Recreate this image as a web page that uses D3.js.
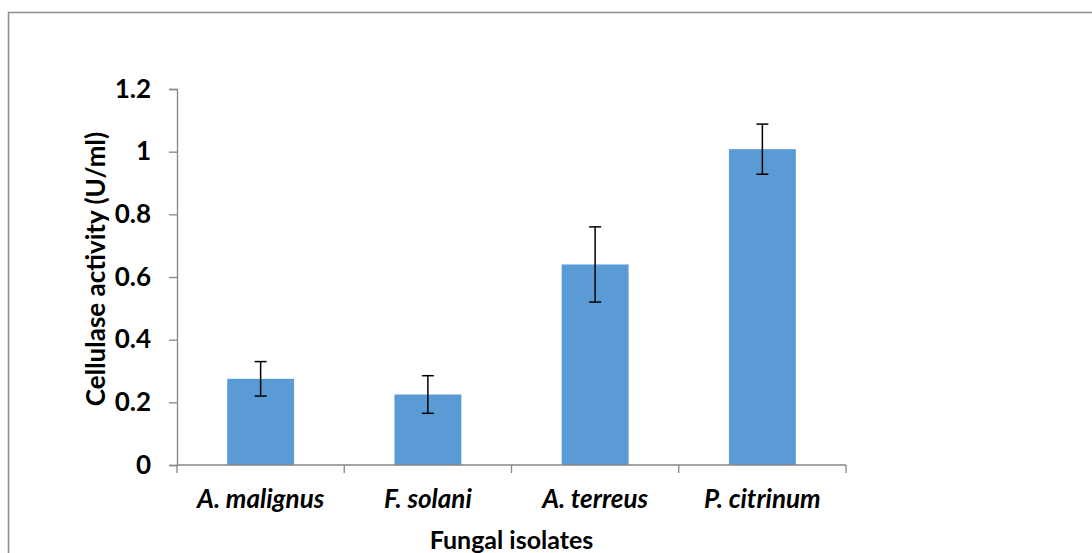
<!DOCTYPE html>
<html>
<head>
<meta charset="utf-8">
<script src="https://cdn.jsdelivr.net/npm/d3@7"></script>
<style>
  html, body { margin: 0; padding: 0; background: #fff; }
  svg { display: block; }
  text { font-family: Lato, "Open Sans", sans-serif; font-weight: 700; fill: #000; }
</style>
</head>
<body>
<script>
// Cellulase activity of fungal isolates (mean ± error)
const isolates = ["A. malignus", "F. solani", "A. terreus", "P. citrinum"];
const activity = [0.275, 0.225, 0.64, 1.008];
const errors = [0.055, 0.06, 0.12, 0.08];
const yTicks = [0, 0.2, 0.4, 0.6, 0.8, 1, 1.2];
const yTickLabels = ["0", "0.2", "0.4", "0.6", "0.8", "1", "1.2"];

const W = 1092, H = 553;
const margin = { left: 177, right: 246, top: 89, bottom: 88 };
const FS = 26;

const svg = d3.select("body").append("svg")
  .attr("width", W).attr("height", H);

// chart area frame
svg.append("rect")
  .attr("x", 8.5).attr("y", 12.5)
  .attr("width", W + 20).attr("height", H + 20)
  .attr("fill", "#fff").attr("stroke", "#8c8c8c").attr("stroke-width", 1.5);

const x = d3.scaleBand()
  .domain(isolates)
  .range([margin.left, W - margin.right])
  .paddingInner(0.6).paddingOuter(0.3);

const y = d3.scaleLinear()
  .domain([0, 1.2])
  .range([H - margin.bottom, margin.top]);

// bars
svg.append("g").selectAll("rect")
  .data(isolates)
  .join("rect")
  .attr("x", d => x(d))
  .attr("y", (d, i) => y(activity[i]))
  .attr("width", x.bandwidth())
  .attr("height", (d, i) => y(0) - y(activity[i]))
  .attr("fill", "#5b9bd5");

// error bars
const eb = svg.append("g").attr("stroke", "#000").attr("stroke-width", 1.5);
isolates.forEach((d, i) => {
  const cx = x(d) + x.bandwidth() / 2;
  const hi = y(activity[i] + errors[i]);
  const lo = y(activity[i] - errors[i]);
  eb.append("line").attr("x1", cx).attr("x2", cx).attr("y1", hi).attr("y2", lo);
  eb.append("line").attr("x1", cx - 6).attr("x2", cx + 6).attr("y1", hi).attr("y2", hi);
  eb.append("line").attr("x1", cx - 6).attr("x2", cx + 6).attr("y1", lo).attr("y2", lo);
});

// y axis
const yAxis = svg.append("g")
  .attr("transform", `translate(${margin.left},0)`)
  .call(d3.axisLeft(y).tickValues(yTicks)
    .tickFormat((d, i) => yTickLabels[i])
    .tickSize(8).tickPadding(18));
yAxis.selectAll("path, line").attr("stroke", "#868686").attr("stroke-width", 1.3);
yAxis.selectAll("text").attr("font-size", FS).attr("font-family", "Lato, sans-serif")
  .attr("font-weight", 700).attr("fill", "#000");

// x axis with boundary ticks between categories
const xAxisG = svg.append("g").attr("transform", `translate(0,${y(0)})`);
xAxisG.append("line")
  .attr("x1", margin.left).attr("x2", W - margin.right)
  .attr("stroke", "#868686").attr("stroke-width", 1.3);
const bounds = d3.range(isolates.length + 1).map(k => margin.left + k * (W - margin.left - margin.right) / isolates.length);
xAxisG.selectAll("line.tk").data(bounds).join("line")
  .attr("class", "tk")
  .attr("x1", d => d).attr("x2", d => d)
  .attr("y1", 0).attr("y2", 8)
  .attr("stroke", "#868686").attr("stroke-width", 1.3);

svg.append("g").selectAll("text")
  .data(isolates)
  .join("text")
  .attr("x", d => x(d) + x.bandwidth() / 2)
  .attr("y", 508)
  .attr("text-anchor", "middle")
  .attr("font-size", FS)
  .attr("font-style", "italic")
  .text(d => d);

// axis titles
svg.append("text")
  .attr("x", (margin.left + W - margin.right) / 2)
  .attr("y", 549)
  .attr("text-anchor", "middle")
  .attr("font-size", 25)
  .text("Fungal isolates");

svg.append("text")
  .attr("transform", `translate(105,269) rotate(-90)`)
  .attr("text-anchor", "middle")
  .attr("font-size", FS)
  .text("Cellulase activity (U/ml)");
</script>
</body>
</html>
